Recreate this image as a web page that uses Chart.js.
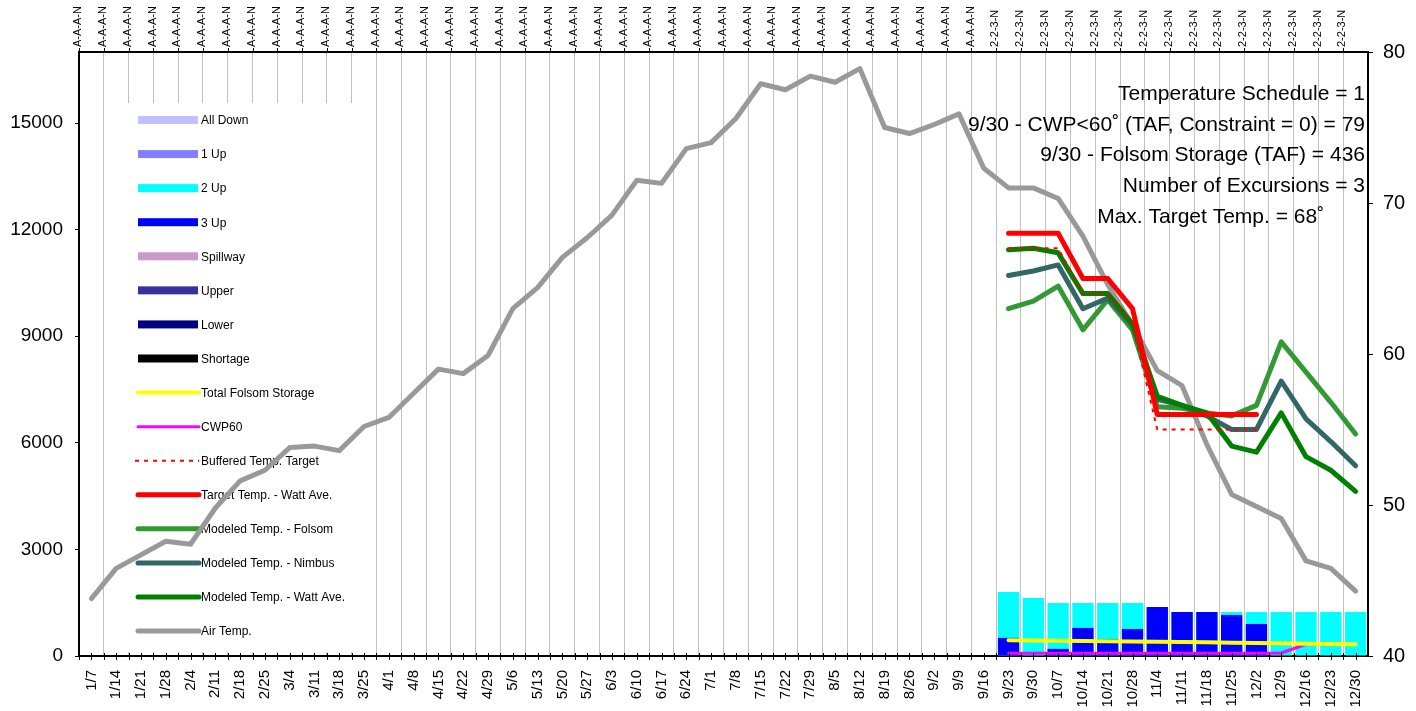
<!DOCTYPE html>
<html>
<head>
<meta charset="utf-8">
<script src="https://cdn.jsdelivr.net/npm/chart.js@4"></script>
<style>
  body { margin: 0; background: #fff; }
  canvas { display: block; }
</style>
</head>
<body>
<canvas id="tempChart" width="1416" height="711"></canvas>
<script>
const weeks = [
  "1/7", "1/14", "1/21", "1/28", "2/4", "2/11", "2/18", "2/25", "3/4", "3/11",
  "3/18", "3/25", "4/1", "4/8", "4/15", "4/22", "4/29", "5/6", "5/13", "5/20",
  "5/27", "6/3", "6/10", "6/17", "6/24", "7/1", "7/8", "7/15", "7/22", "7/29",
  "8/5", "8/12", "8/19", "8/26", "9/2", "9/9", "9/16", "9/23", "9/30", "10/7",
  "10/14", "10/21", "10/28", "11/4", "11/11", "11/18", "11/25", "12/2", "12/9",
  "12/16", "12/23", "12/30",
];

// configuration codes shown above the plot
const configs = [
  "A-A-A-N", "A-A-A-N", "A-A-A-N", "A-A-A-N", "A-A-A-N", "A-A-A-N", "A-A-A-N",
  "A-A-A-N", "A-A-A-N", "A-A-A-N", "A-A-A-N", "A-A-A-N", "A-A-A-N", "A-A-A-N",
  "A-A-A-N", "A-A-A-N", "A-A-A-N", "A-A-A-N", "A-A-A-N", "A-A-A-N", "A-A-A-N",
  "A-A-A-N", "A-A-A-N", "A-A-A-N", "A-A-A-N", "A-A-A-N", "A-A-A-N", "A-A-A-N",
  "A-A-A-N", "A-A-A-N", "A-A-A-N", "A-A-A-N", "A-A-A-N", "A-A-A-N", "A-A-A-N",
  "A-A-A-N", "A-A-A-N", "2-2-3-N", "2-2-3-N", "2-2-3-N", "2-2-3-N", "2-2-3-N",
  "2-2-3-N", "2-2-3-N", "2-2-3-N", "2-2-3-N", "2-2-3-N", "2-2-3-N", "2-2-3-N",
  "2-2-3-N", "2-2-3-N", "2-2-3-N",
];

const storageTicks = [0, 3000, 6000, 9000, 12000, 15000];
const tempTicks = [40, 50, 60, 70, 80];

const airTemp = [
  43.8, 45.8, 46.7, 47.6, 47.4, 49.8, 51.6, 52.3, 53.8, 53.9,
  53.6, 55.2, 55.8, 57.4, 59.0, 58.7, 59.9, 63.0, 64.4, 66.4,
  67.7, 69.2, 71.5, 71.3, 73.6, 74.0, 75.6, 77.9, 77.5, 78.4,
  78.0, 78.9, 75.0, 74.6, 75.2, 75.9, 72.3, 71.0, 71.0, 70.3,
  67.8, 64.6, 61.9, 58.9, 57.9, 54.0, 50.7, 49.9, 49.1, 46.3,
  45.8, 44.3,
];

// operations season starts at 9/23
const seasonStart = 37;
const targetTemp = [68, 68, 68, 65, 65, 63, 56, 56, 56, 56, 56];
const bufferedTarget = [67, 67, 67, 64, 64, 62, 55, 55, 55, 55, 55];
const modeledFolsom = [63.0, 63.5, 64.5, 61.6, 63.6, 61.6, 56.5, 56.4, 56.1, 55.9, 56.6, 60.8, 58.8, 56.8, 54.7];
const modeledNimbus = [65.2, 65.5, 65.9, 63.0, 63.7, 61.9, 57.0, 56.6, 55.9, 55.0, 55.0, 58.2, 55.7, 54.2, 52.6];
const modeledWatt = [66.9, 67.0, 66.7, 64.0, 64.0, 62.0, 57.2, 56.6, 56.1, 53.9, 53.5, 56.1, 53.2, 52.3, 50.9];
const folsomStorage = [440, 436, 430, 423, 415, 408, 400, 392, 384, 376, 368, 358, 348, 338, 328];
const cwp60 = [79, 79, 79, 79, 79, 79, 79, 79, 79, 79, 79, 85, 330, 335, 330];
const twoUp = [1800, 1630, 1490, 1490, 1490, 1490, 1380, 1240, 1240, 1240, 1240, 1240, 1240, 1240, 1240];
const threeUp = [510, 0, 200, 790, 480, 760, 1380, 1240, 1240, 1155, 900, 0, 0, 0, 0];

const lead = Array(seasonStart).fill(null);
const season = (vals) => lead.concat(vals);

const notes = [
  "Temperature Schedule = 1",
  "9/30 - CWP<60˚ (TAF, Constraint = 0) = 79",
  "9/30 - Folsom Storage (TAF) = 436",
  "Number of Excursions = 3",
  "Max. Target Temp. = 68˚       ",
];

const FONT = '"Liberation Sans", Arial, sans-serif';

function barSet(label, color, vals, order) {
  return {
    type: "bar", label, data: vals ? season(vals) : [], backgroundColor: color,
    yAxisID: "y", order, swatch: "bar",
  };
}
function lineSet(label, color, vals, yAxisID, width, order, dash) {
  return {
    type: "line", label, data: season(vals), borderColor: color, borderWidth: width,
    borderDash: dash || [], pointRadius: 0, tension: 0, fill: false, yAxisID, order,
    borderJoinStyle: "round", borderCapStyle: dash ? "butt" : "round", swatch: "line",
  };
}

const airSet = lineSet("Air Temp.", "#999999", [], "y1", 5, 6);
airSet.data = airTemp;

const datasets = [
  barSet("All Down", "#c0c0ff", null, 20),
  barSet("1 Up", "#8080ff", null, 19),
  barSet("2 Up", "#00ffff", twoUp, 10),
  barSet("3 Up", "#0000ff", threeUp, 9),
  barSet("Spillway", "#cc99cc", null, 18),
  barSet("Upper", "#333399", null, 17),
  barSet("Lower", "#000080", null, 16),
  barSet("Shortage", "#000000", null, 15),
  lineSet("Total Folsom Storage", "#ffff00", folsomStorage, "y", 4, 7),
  lineSet("CWP60", "#ff00ff", cwp60, "y", 3, 8),
  lineSet("Buffered Temp. Target", "#ff0000", bufferedTarget, "y1", 2, 2, [4, 5]),
  lineSet("Target Temp. - Watt Ave.", "#ff0000", targetTemp, "y1", 5, 1),
  lineSet("Modeled Temp. - Folsom", "#339933", modeledFolsom, "y1", 5, 5),
  lineSet("Modeled Temp. - Nimbus", "#336666", modeledNimbus, "y1", 5, 4),
  lineSet("Modeled Temp. - Watt Ave.", "#008000", modeledWatt, "y1", 5, 3),
  airSet,
];

// legend drawn inside the plot, under the lines
const sideLegend = {
  id: "sideLegend",
  beforeDatasetsDraw(chart) {
    const ctx = chart.ctx;
    ctx.save();
    ctx.fillStyle = "#fff";
    ctx.fillRect(127, 103, 228, 549);
    ctx.font = "12px " + FONT;
    ctx.textBaseline = "middle";
    chart.data.datasets.forEach((ds, i) => {
      const y = 120 + i * 34.07;
      if (ds.swatch === "bar") {
        ctx.fillStyle = ds.backgroundColor;
        ctx.fillRect(138, y - 4, 60, 8);
      } else {
        ctx.strokeStyle = ds.borderColor;
        ctx.lineWidth = ds.borderWidth;
        ctx.setLineDash(ds.borderDash);
        ctx.lineCap = ds.borderDash.length ? "butt" : "round";
        ctx.beginPath();
        ctx.moveTo(ds.borderDash.length ? 135 : 138, y);
        ctx.lineTo(199, y);
        ctx.stroke();
        ctx.setLineDash([]);
      }
      ctx.fillStyle = "#000";
      ctx.fillText(ds.label, 201, y + 1);
    });
    ctx.restore();
  },
};

const noteText = {
  id: "noteText",
  afterDatasetsDraw(chart) {
    const ctx = chart.ctx;
    const area = chart.chartArea;
    ctx.save();
    ctx.font = "21px " + FONT;
    ctx.fillStyle = "#000";
    ctx.textAlign = "right";
    ctx.textBaseline = "middle";
    notes.forEach((t, i) => ctx.fillText(t, area.right - 3, 94 + i * 30.8));
    ctx.restore();
  },
};

// cross tick marks on the category axes
const axisTicks = {
  id: "axisTicks",
  afterDraw(chart) {
    const ctx = chart.ctx;
    const xs = chart.scales.x;
    const top = chart.scales.x2;
    const step = xs.getPixelForValue(1) - xs.getPixelForValue(0);
    ctx.save();
    ctx.strokeStyle = "#000";
    ctx.lineWidth = 1;
    ctx.beginPath();
    for (let i = 0; i < weeks.length; i++) {
      const c = xs.getPixelForValue(i);
      [c - step / 2, c].forEach((px) => {
        const x = Math.round(px) + 0.5;
        ctx.moveTo(x, xs.top - 3);
        ctx.lineTo(x, xs.top + 4);
      });
      const b = Math.round(top.getPixelForValue(i) - step / 2) + 0.5;
      ctx.moveTo(b, top.bottom - 4);
      ctx.lineTo(b, top.bottom);
    }
    ctx.stroke();
    ctx.restore();
  },
};

new Chart(document.getElementById("tempChart"), {
  type: "bar",
  data: { labels: weeks, datasets },
  options: {
    responsive: false,
    animation: false,
    layout: { padding: 0 },
    datasets: {
      bar: { grouped: false, barPercentage: 0.86, categoryPercentage: 1 },
    },
    plugins: {
      legend: { display: false },
      tooltip: { enabled: false },
    },
    scales: {
      x: {
        position: "bottom",
        offset: true,
        grid: { offset: true, color: "#c0c0c0", lineWidth: 1, drawTicks: false },
        border: { color: "#000", width: 2 },
        ticks: {
          autoSkip: false, minRotation: 90, maxRotation: 90, padding: 14,
          color: "#000", font: { family: FONT, size: 15 },
        },
        afterFit: (s) => { s.height = 55; },
      },
      x2: {
        type: "category",
        position: "top",
        labels: configs,
        offset: true,
        grid: { display: false, drawTicks: false },
        border: { display: true, color: "#000", width: 2 },
        ticks: {
          autoSkip: false, minRotation: 90, maxRotation: 90, padding: 5,
          color: "#000", font: { family: FONT, size: 11 },
        },
        afterFit: (s) => { s.height = 52; },
      },
      y: {
        position: "left",
        min: 0,
        max: 17000,
        grid: { drawOnChartArea: false, tickLength: 4, tickColor: "#000" },
        border: { color: "#000", width: 2 },
        ticks: {
          autoSkip: false, padding: 12, color: "#000",
          font: { family: FONT, size: 19 },
          callback: (v) => String(v),
        },
        afterBuildTicks: (s) => { s.ticks = storageTicks.map((v) => ({ value: v })); },
        afterFit: (s) => { s.width = 79; },
      },
      y1: {
        position: "right",
        min: 40,
        max: 80,
        grid: { drawOnChartArea: false, tickLength: 5, tickColor: "#000" },
        border: { color: "#000", width: 2 },
        ticks: {
          autoSkip: false, padding: 10, color: "#000",
          font: { family: FONT, size: 20 },
          callback: (v) => String(v),
        },
        afterBuildTicks: (s) => { s.ticks = tempTicks.map((v) => ({ value: v })); },
        afterFit: (s) => { s.width = 48; },
      },
    },
  },
  plugins: [sideLegend, noteText, axisTicks],
});
</script>
</body>
</html>
